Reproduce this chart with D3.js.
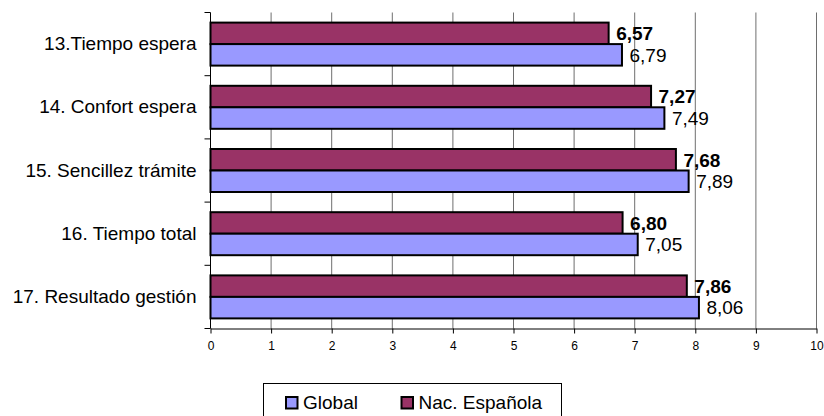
<!DOCTYPE html>
<html>
<head>
<meta charset="utf-8">
<script src="https://cdn.jsdelivr.net/npm/d3@7"></script>
<style>
  html, body { margin: 0; padding: 0; background: #fff; }
  svg { display: block; font-family: Arial, "Liberation Sans", sans-serif; }
</style>
</head>
<body>
<svg id="chart" width="824" height="416"></svg>
<script>
const categories = ["13.Tiempo espera", "14. Confort espera", "15. Sencillez trámite", "16. Tiempo total", "17. Resultado gestión"];
const seriesNames = ["Nac. Española", "Global"];
const nacValues = [6.57, 7.27, 7.68, 6.80, 7.86];
const globalValues = [6.79, 7.49, 7.89, 7.05, 8.06];
const xTicks = [0, 1, 2, 3, 4, 5, 6, 7, 8, 9, 10];
const legendOrder = ["Global", "Nac. Española"];

const colors = { "Nac. Española": "#993366", "Global": "#9999FF" };
const bold = { "Nac. Española": true, "Global": false };
const valuesBySeries = { "Nac. Española": nacValues, "Global": globalValues };

const svg = d3.select("#chart");
const pLeft = 210.5, pRight = 816.5, pTop = 12.5, pBottom = 328.5;

const x = d3.scaleLinear().domain([0, 10]).range([pLeft, pRight]);
const y = d3.scaleBand().domain(categories).range([pTop, pBottom]).paddingInner(0).paddingOuter(0);
const bw = y.bandwidth();
const groupH = 43;
const inner = d3.scaleBand().domain(seriesNames).range([(bw - groupH) / 2, (bw + groupH) / 2]);

// gridlines
svg.append("g").selectAll("line").data(xTicks.filter(d => d > 0)).join("line")
  .attr("x1", d => x(d)).attr("x2", d => x(d))
  .attr("y1", pTop).attr("y2", pBottom)
  .attr("stroke", "#6e6e6e").attr("stroke-width", 1);

// bars
const fmt = v => d3.format(".2f")(v).replace(".", ",");
const rows = [];
categories.forEach((c, i) => {
  seriesNames.forEach(s => rows.push({ cat: c, series: s, value: valuesBySeries[s][i] }));
});

const bars = svg.append("g");
bars.selectAll("rect").data(rows).join("rect")
  .attr("x", x(0))
  .attr("y", d => y(d.cat) + inner(d.series))
  .attr("width", d => x(d.value) - x(0))
  .attr("height", inner.bandwidth())
  .attr("fill", d => colors[d.series])
  .attr("stroke", "#000").attr("stroke-width", 2);

bars.selectAll("text").data(rows).join("text")
  .attr("x", d => x(d.value) + 7.5)
  .attr("y", d => y(d.cat) + inner(d.series) + inner.bandwidth() / 2)
  .attr("dy", "0.36em")
  .attr("font-size", 19)
  .attr("font-weight", d => bold[d.series] ? "bold" : "normal")
  .attr("fill", "#000")
  .text(d => fmt(d.value));

// x axis
const xAxis = d3.axisBottom(x).tickValues(xTicks).tickSize(5).tickSizeOuter(0).tickFormat(d3.format("d"));
const gx = svg.append("g").attr("transform", `translate(0,${pBottom})`).call(xAxis);
gx.select(".domain").attr("stroke", "#000");
gx.selectAll(".tick line").attr("stroke", "#000");
gx.selectAll(".tick text").attr("font-size", 12).attr("font-family", "Arial, 'Liberation Sans', sans-serif").attr("fill", "#000").attr("dy", "1.15em");

// y axis
const yAxis = d3.axisLeft(y).tickSize(0).tickPadding(14);
const gy = svg.append("g").attr("transform", `translate(${pLeft},0)`).call(yAxis);
gy.select(".domain").attr("stroke", "#000").attr("d", `M0,${pTop}V${pBottom}`);
gy.selectAll(".tick text").attr("font-size", 19).attr("font-family", "Arial, 'Liberation Sans', sans-serif").attr("fill", "#000");
// category boundary ticks
const boundaries = categories.map(c => y(c)).concat([pBottom]);
gy.append("g").selectAll("line").data(boundaries).join("line")
  .attr("x1", -6).attr("x2", 0).attr("y1", d => d).attr("y2", d => d)
  .attr("stroke", "#000");

// legend
const lg = svg.append("g");
lg.append("rect").attr("x", 263.5).attr("y", 383.5).attr("width", 298).attr("height", 40)
  .attr("fill", "#fff").attr("stroke", "#000").attr("stroke-width", 1);
const legendPos = { "Global": 286, "Nac. Española": 401.5 };
legendOrder.forEach(s => {
  lg.append("rect").attr("x", legendPos[s]).attr("y", 397).attr("width", 11.5).attr("height", 11.5)
    .attr("fill", colors[s]).attr("stroke", "#000").attr("stroke-width", 2);
  lg.append("text").attr("x", legendPos[s] + 17).attr("y", 409).attr("font-size", 19).attr("fill", "#000").text(s);
});
</script>
</body>
</html>
